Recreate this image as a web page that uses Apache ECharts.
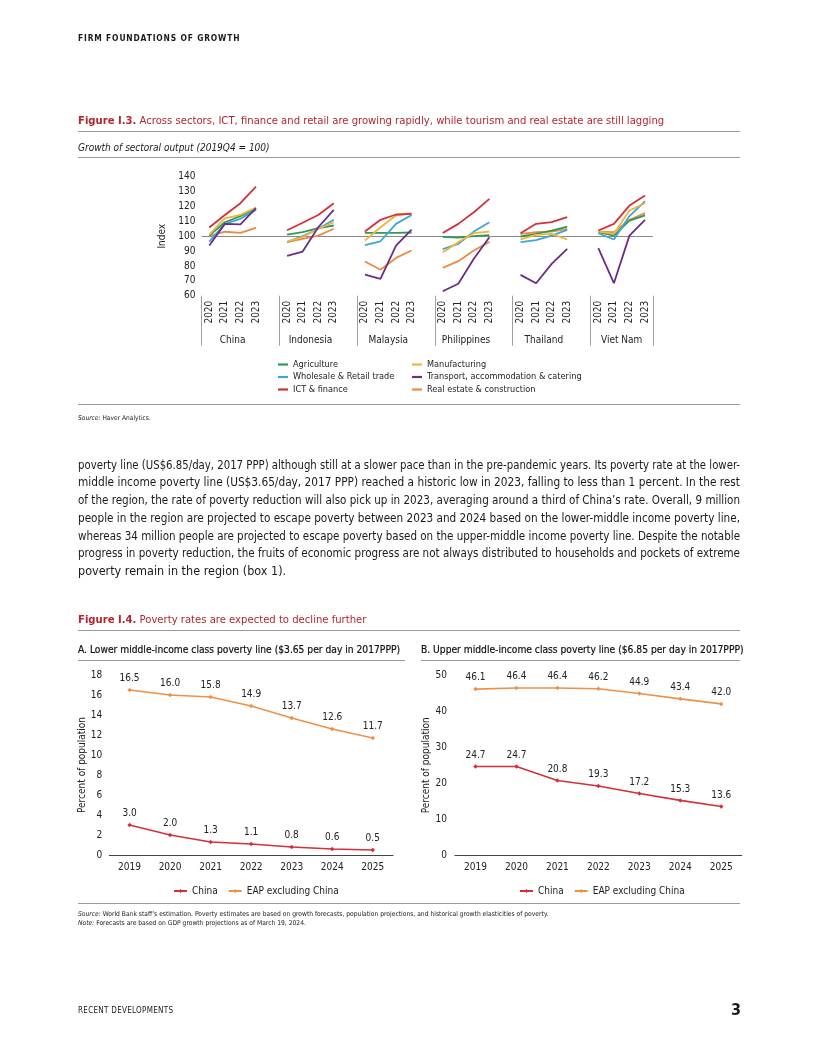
<!DOCTYPE html>
<html><head><meta charset="utf-8">
<script src="https://cdn.jsdelivr.net/npm/echarts@6/dist/echarts.min.js"></script>
<style>
body{margin:0;background:#fff;}
#page{position:relative;width:816px;height:1056px;overflow:hidden;font-family:"Liberation Sans Narrow","DejaVu Sans Condensed",sans-serif;color:#1a1a1a;background:#fff;}
#chart{position:absolute;left:0;top:0;width:816px;height:1056px;}
.t{position:absolute;white-space:nowrap;line-height:1;z-index:2;}
.rule{position:absolute;height:0;border-top:1px solid #9a9a9a;z-index:2;}
.red{color:#b3262d;}
.pl{position:absolute;left:78px;white-space:nowrap;line-height:1;font-size:12.5px;transform-origin:left center;z-index:2;}
</style></head>
<body>
<div id="page">
<div id="chart"></div>
<div class="t" style="left:78px;top:34px;font-size:8.4px;font-weight:bold;letter-spacing:0.85px;">FIRM FOUNDATIONS OF GROWTH</div>
<div class="t red" style="left:78px;top:114.5px;font-size:11.2px;"><b>Figure I.3.</b> Across sectors, ICT, finance and retail are growing rapidly, while tourism and real estate are still lagging</div>
<div class="rule" style="left:78px;top:130.5px;width:662px;"></div>
<div class="t" style="left:78px;top:143px;font-size:10px;font-style:italic;">Growth of sectoral output (2019Q4 = 100)</div>
<div class="rule" style="left:78px;top:156.5px;width:662px;border-top-width:1.5px;"></div>
<div class="rule" style="left:78px;top:404px;width:662px;"></div>
<div class="t" style="left:78px;top:415px;font-size:6.6px;"><i>Source:</i> Haver Analytics.</div>

<div class="pl" style="top:458.5px;">poverty line (US$6.85/day, 2017 PPP) although still at a slower pace than in the pre-pandemic years. Its poverty rate at the lower-</div>
<div class="pl" style="top:476.25px;">middle income poverty line (US$3.65/day, 2017 PPP) reached a historic low in 2023, falling to less than 1 percent. In the rest</div>
<div class="pl" style="top:494px;">of the region, the rate of poverty reduction will also pick up in 2023, averaging around a third of China’s rate. Overall, 9 million</div>
<div class="pl" style="top:511.75px;">people in the region are projected to escape poverty between 2023 and 2024 based on the lower-middle income poverty line,</div>
<div class="pl" style="top:529.5px;">whereas 34 million people are projected to escape poverty based on the upper-middle income poverty line. Despite the notable</div>
<div class="pl" style="top:547.25px;">progress in poverty reduction, the fruits of economic progress are not always distributed to households and pockets of extreme</div>
<div class="pl last" style="top:565px;">poverty remain in the region (box 1).</div>

<div class="t red" style="left:78px;top:613.5px;font-size:11.2px;"><b>Figure I.4.</b> Poverty rates are expected to decline further</div>
<div class="rule" style="left:78px;top:630px;width:662px;"></div>
<div class="t" style="left:78px;top:645px;font-size:10.2px;color:#111;-webkit-text-stroke:0.2px #111;">A. Lower middle-income class poverty line ($3.65 per day in 2017PPP)</div>
<div class="t" style="left:421px;top:645px;font-size:10.2px;color:#111;-webkit-text-stroke:0.2px #111;">B. Upper middle-income class poverty line ($6.85 per day in 2017PPP)</div>
<div class="rule" style="left:78px;top:660px;width:327px;"></div>
<div class="rule" style="left:421px;top:660px;width:319px;"></div>
<div class="rule" style="left:78px;top:903px;width:662px;"></div>
<div class="t" style="left:78px;top:911px;font-size:6.7px;"><i>Source:</i> World Bank staff’s estimation. Poverty estimates are based on growth forecasts, population projections, and historical growth elasticities of poverty.</div>
<div class="t" style="left:78px;top:920px;font-size:6.7px;"><i>Note:</i> Forecasts are based on GDP growth projections as of March 19, 2024.</div>
<div class="t" style="left:78px;top:1007px;font-size:8px;letter-spacing:0.3px;">RECENT DEVELOPMENTS</div>
<div class="t" style="left:731px;top:1002px;font-size:16px;font-weight:bold;">3</div>
</div>
<script>
// ---------- Figure I.3 data ----------
const countries = ['China', 'Indonesia', 'Malaysia', 'Philippines', 'Thailand', 'Viet Nam'];
const years = ['2020', '2021', '2022', '2023'];
// values per sector: 4 years for each country, in country order
const agriculture     = [100.4, 109.4, 113.5, 118.4,  101.0, 102.7, 105.4, 107.2,  102.2, 102.2, 102.2, 102.5,  99.6, 99.1, 100.0, 100.7,  99.8, 101.6, 103.8, 106.5,  102.7, 100.4, 110.5, 114.0];
const manufacturing   = [101.0, 112.0, 114.3, 119.3,  96.4, 99.3, 105.0, 109.4,  97.0, 106.0, 113.9, 115.5,  89.0, 96.0, 102.0, 103.1,  97.8, 100.9, 101.6, 97.8,  103.1, 101.6, 117.3, 122.2];
const wholesaleRetail = [96.4, 108.3, 111.7, 117.7,  96.0, 100.0, 105.0, 111.0,  94.0, 96.6, 108.3, 114.3,  91.3, 94.8, 103.1, 109.4,  96.0, 97.3, 100.4, 104.3,  102.0, 97.8, 113.5, 123.5];
const transport       = [93.7, 108.3, 108.0, 118.8,  86.8, 89.7, 106.0, 117.7,  74.2, 71.3, 93.7, 104.5,  63.0, 68.0, 84.8, 99.3,  74.0, 68.4, 81.4, 91.5,  92.0, 68.4, 100.4, 111.0];
const ictFinance      = [105.8, 114.3, 122.2, 133.4,  104.0, 109.0, 114.3, 122.2,  103.1, 111.0, 114.6, 115.0,  102.2, 108.3, 116.1, 125.1,  102.0, 108.3, 109.4, 112.8,  103.8, 108.3, 120.6, 127.4];
const realEstate      = [100.0, 103.0, 102.2, 105.6,  96.0, 98.2, 100.4, 105.0,  83.0, 77.4, 85.4, 90.4,  78.7, 83.2, 90.4, 96.2,  101.6, 102.7, 103.1, 105.0,  103.1, 102.7, 111.0, 115.5];
const yTicks13 = {min: 60, max: 140, interval: 10};

// ---------- Figure I.4 data ----------
const povYears = ['2019', '2020', '2021', '2022', '2023', '2024', '2025'];
const lmicChina = [3.0, 2.0, 1.3, 1.1, 0.8, 0.6, 0.5];
const lmicEAP   = [16.5, 16.0, 15.8, 14.9, 13.7, 12.6, 11.7];
const umicChina = [24.7, 24.7, 20.8, 19.3, 17.2, 15.3, 13.6];
const umicEAP   = [46.1, 46.4, 46.4, 46.2, 44.9, 43.4, 42.0];

// ---------- paragraph justification ----------
document.querySelectorAll('.pl').forEach(el => {
  const target = 662;
  const w = el.getBoundingClientRect().width;
  if (w > target) { el.style.transform = 'scaleX(' + (target / w) + ')'; }
  else if (!el.classList.contains('last')) {
    const n = (el.textContent.match(/ /g) || []).length;
    if (n) el.style.wordSpacing = ((target - w) / n) + 'px';
  }
});

const FONT = '"Liberation Sans Narrow","DejaVu Sans Condensed",sans-serif';
const TXT = '#222';
const C = {
  agri: '#2f9a58', manu: '#f0b43a', whole: '#3ba7d6', trans: '#6b2d86', ict: '#d3303c', real: '#e98a48',
  china: '#d3303c', eap: '#ee9047'
};

// category slots: 4 years per country, with one blank slot between countries
const slotKeys = [];
countries.forEach((c, g) => {
  years.forEach(y => slotKeys.push(c + '|' + y));
  if (g < countries.length - 1) slotKeys.push(c + '|gap');
});
const sepKeys = Array.from({length: slotKeys.length + 1}, (_, i) => 's' + i);
function expand(arr) {
  const out = [];
  countries.forEach((c, g) => {
    years.forEach((y, k) => out.push(arr[g * 4 + k]));
    if (g < countries.length - 1) out.push(null);
  });
  return out;
}
function sectorSeries(name, arr, color, extra) {
  return Object.assign({
    name, type: 'line', xAxisIndex: 0, yAxisIndex: 0, data: expand(arr),
    connectNulls: false, symbol: 'none', z: 3,
    lineStyle: {color, width: 1.8}, itemStyle: {color}
  }, extra || {});
}
function povSeries(name, arr, color, xi, yi) {
  return {
    name, type: 'line', xAxisIndex: xi, yAxisIndex: yi, data: arr,
    symbol: 'diamond', symbolSize: 4.5,
    lineStyle: {color, width: 1.6}, itemStyle: {color},
    label: {show: true, position: 'top', distance: 4, fontFamily: FONT, fontSize: 10, color: TXT,
      formatter: p => p.value.toFixed(1)}
  };
}
const axisLbl = {fontFamily: FONT, fontSize: 10, color: TXT};
const sectLegendText = {fontFamily: FONT, fontSize: 9.1, color: TXT, lineHeight: 10};

const chart = echarts.init(document.getElementById('chart'), null, {renderer: 'canvas'});
chart.setOption({
  animation: false,
  backgroundColor: '#fff',
  textStyle: {fontFamily: FONT},
  grid: [
    {left: 201.5, right: 163.2, top: 176.7, bottom: 760.3},
    {left: 109.3, right: 423, top: 675, bottom: 201},
    {left: 455, right: 74.3, top: 675, bottom: 200.3}
  ],
  xAxis: [
    {type: 'category', gridIndex: 0, data: slotKeys, boundaryGap: true, position: 'bottom',
      axisLine: {show: false, onZero: false}, axisTick: {show: false},
      axisLabel: Object.assign({}, axisLbl, {rotate: 90, margin: 5, interval: 0,
        formatter: v => { const s = v.split('|')[1]; return s === 'gap' ? '' : s; }})},
    {type: 'category', gridIndex: 0, data: sepKeys, boundaryGap: false, position: 'bottom',
      axisLine: {show: false, onZero: false},
      axisTick: {show: true, length: 50, interval: i => (i % 5 === 0 || i === sepKeys.length - 1),
        lineStyle: {color: '#a0a0a0', width: 1}},
      axisLabel: Object.assign({}, axisLbl, {margin: 40, interval: i => i % 5 === 2,
        formatter: (v, i) => (i % 5 === 2 ? countries[(i - 2) / 5] : '')})},
    {type: 'category', gridIndex: 1, data: povYears,
      axisLine: {lineStyle: {color: '#444', width: 1}}, axisTick: {show: false},
      axisLabel: Object.assign({}, axisLbl, {margin: 7})},
    {type: 'category', gridIndex: 2, data: povYears,
      axisLine: {lineStyle: {color: '#444', width: 1}}, axisTick: {show: false},
      axisLabel: Object.assign({}, axisLbl, {margin: 7})}
  ],
  yAxis: [
    Object.assign({type: 'value', gridIndex: 0}, yTicks13, {
      axisLine: {show: false}, axisTick: {show: false}, splitLine: {show: false},
      axisLabel: Object.assign({}, axisLbl, {margin: 6}),
      name: 'Index', nameLocation: 'middle', nameGap: 26,
      nameTextStyle: {fontFamily: FONT, fontSize: 10, color: TXT}}),
    {type: 'value', gridIndex: 1, min: 0, max: 18, interval: 2,
      axisLine: {show: false}, axisTick: {show: false}, splitLine: {show: false},
      axisLabel: Object.assign({}, axisLbl, {margin: 7}),
      name: 'Percent of population', nameLocation: 'middle', nameGap: 21,
      nameTextStyle: {fontFamily: FONT, fontSize: 10, color: TXT}},
    {type: 'value', gridIndex: 2, min: 0, max: 50, interval: 10,
      axisLine: {show: false}, axisTick: {show: false}, splitLine: {show: false},
      axisLabel: Object.assign({}, axisLbl, {margin: 8}),
      name: 'Percent of population', nameLocation: 'middle', nameGap: 23,
      nameTextStyle: {fontFamily: FONT, fontSize: 10, color: TXT}}
  ],
  legend: [
    {orient: 'vertical', left: 273, top: 354.5, itemGap: 2.5, itemWidth: 10, itemHeight: 2.2, icon: 'rect',
      textStyle: sectLegendText,
      data: ['Agriculture', 'Wholesale & Retail trade', 'ICT & finance']},
    {orient: 'vertical', left: 407, top: 354.5, itemGap: 2.5, itemWidth: 10, itemHeight: 2.2, icon: 'rect',
      textStyle: sectLegendText,
      data: ['Manufacturing', 'Transport, accommodation & catering', 'Real estate & construction']},
    {orient: 'horizontal', left: 168, top: 881, itemGap: 10, itemWidth: 13, itemHeight: 5,
      textStyle: {fontFamily: FONT, fontSize: 10, color: TXT},
      data: ['China', 'EAP excluding China']},
    {orient: 'horizontal', left: 514, top: 881, itemGap: 10, itemWidth: 13, itemHeight: 5,
      textStyle: {fontFamily: FONT, fontSize: 10, color: TXT},
      data: ['China', 'EAP excluding China']}
  ],
  series: [
    sectorSeries('Real estate & construction', realEstate, C.real, {
      markLine: {silent: true, symbol: 'none', z: 1, label: {show: false},
        lineStyle: {color: '#8a8a8a', width: 1, type: 'solid'}, data: [{yAxis: 100}]}}),
    sectorSeries('Agriculture', agriculture, C.agri),
    sectorSeries('Wholesale & Retail trade', wholesaleRetail, C.whole),
    sectorSeries('Manufacturing', manufacturing, C.manu),
    sectorSeries('Transport, accommodation & catering', transport, C.trans),
    sectorSeries('ICT & finance', ictFinance, C.ict),
    povSeries('China', lmicChina, C.china, 2, 1),
    povSeries('EAP excluding China', lmicEAP, C.eap, 2, 1),
    povSeries('China', umicChina, C.china, 3, 2),
    povSeries('EAP excluding China', umicEAP, C.eap, 3, 2)
  ]
});
</script>
</body></html>
